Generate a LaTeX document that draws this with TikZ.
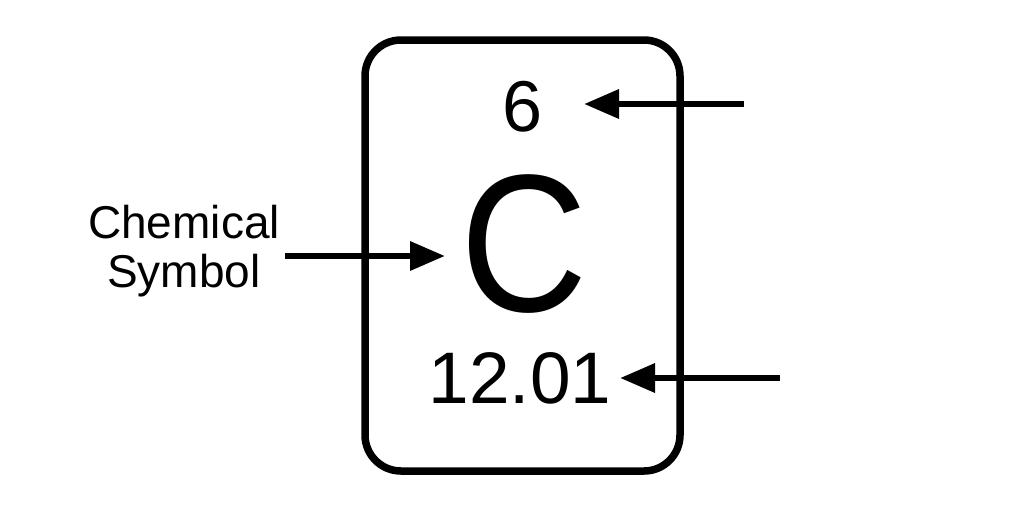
\documentclass[tikz,border=0pt]{standalone}
\usepackage{fontspec}
\setmainfont{Liberation Sans}
\usetikzlibrary{arrows.meta}
\tikzset{
  conn/.style={line width=6.5pt,-{Triangle[length=35pt,width=28pt]}},
  lab/.style={inner sep=0pt,text=black,font=\fontsize{46}{49}\selectfont,align=center}
}
\begin{document}
\begin{tikzpicture}[x=1pt,y=-1pt]
\useasboundingbox (0,0) rectangle (1024,512);
\draw[line width=7.5pt,rounded corners=36pt,draw=black] (365,40) rectangle (680,471);
\node[lab,font=\fontsize{72}{72}\selectfont] (six) at (523,107) {6};
\node[lab,font=\fontsize{196}{196}\selectfont,xscale=.9] (c) at (524,244) {C};
\node[lab,font=\fontsize{73}{73}\selectfont] (mass) at (520,378) {12.01};
\node[lab] (sym) at (184,251) {Chemical\\Symbol};
\coordinate (a1) at (744,104);
\coordinate (a1e) at (584,104);
\coordinate (a2) at (780,378);
\coordinate (a2e) at (620,378);
\coordinate (a3) at (285,256);
\coordinate (a3e) at (445,256);
\draw[conn] (a1) -- (a1e);
\draw[conn] (a2) -- (a2e);
\draw[conn] (a3) -- (a3e);
\end{tikzpicture}
\end{document}
